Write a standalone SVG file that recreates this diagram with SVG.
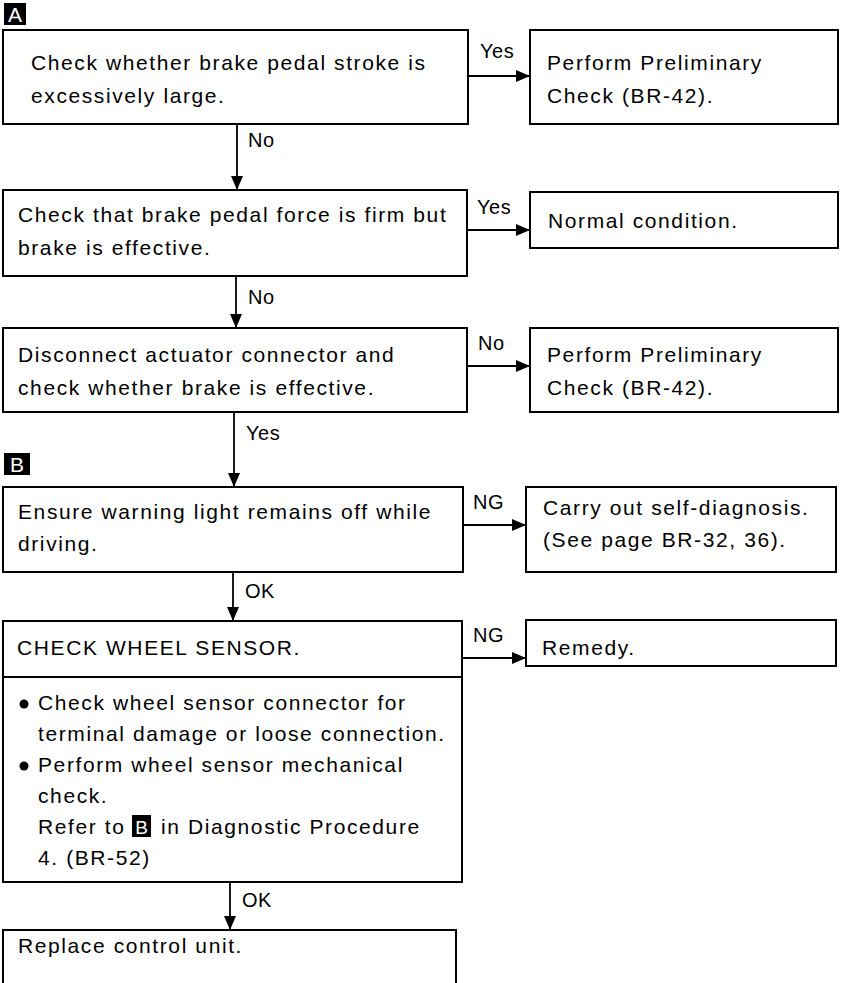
<svg xmlns="http://www.w3.org/2000/svg" width="847" height="983" viewBox="0 0 847 983">
<style>
.box{fill:#fff;stroke:#000;stroke-width:2}
.ln{fill:none;stroke:#000;stroke-width:1.8}
.t{font-family:"Liberation Sans",Arial,Helvetica,sans-serif;font-size:21px;letter-spacing:1.6px;fill:#000}
.lab{font-family:"Liberation Sans",Arial,Helvetica,sans-serif;font-size:20px;letter-spacing:0.5px;fill:#000}
.mk{fill:#000}
.mt{font-family:"Liberation Sans Narrow","Liberation Sans",Arial,sans-serif;font-size:21px;fill:#fff}
</style>
<defs>
<marker id="ah" viewBox="0 0 14 12" refX="14" refY="6" markerWidth="14" markerHeight="12" markerUnits="userSpaceOnUse" orient="auto">
<path d="M0,0 L14,6 L0,12 z" fill="#000"/>
</marker>
</defs>

<g id="markerA"><rect class="mk" x="4" y="3" width="22" height="22"/><text class="mt" x="15" y="22" text-anchor="middle">A</text></g>
<g id="markerB"><rect class="mk" x="4" y="453" width="26" height="22"/><text class="mt" x="17" y="472" text-anchor="middle">B</text></g>

<g id="connectors">
<line class="ln" x1="468" y1="76" x2="530" y2="76" marker-end="url(#ah)"/>
<text class="lab" x="480" y="58">Yes</text>
<line class="ln" x1="237" y1="124" x2="237" y2="190" marker-end="url(#ah)"/>
<text class="lab" x="248" y="147">No</text>
<line class="ln" x1="467" y1="230" x2="530" y2="230" marker-end="url(#ah)"/>
<text class="lab" x="477" y="214">Yes</text>
<line class="ln" x1="236" y1="276" x2="236" y2="328" marker-end="url(#ah)"/>
<text class="lab" x="248" y="304">No</text>
<line class="ln" x1="467" y1="366" x2="530" y2="366" marker-end="url(#ah)"/>
<text class="lab" x="478" y="350">No</text>
<line class="ln" x1="234" y1="412" x2="234" y2="487" marker-end="url(#ah)"/>
<text class="lab" x="246" y="440">Yes</text>
<line class="ln" x1="463" y1="525" x2="526" y2="525" marker-end="url(#ah)"/>
<text class="lab" x="473" y="509">NG</text>
<line class="ln" x1="233" y1="572" x2="233" y2="621" marker-end="url(#ah)"/>
<text class="lab" x="245" y="598">OK</text>
<line class="ln" x1="462" y1="658" x2="526" y2="658" marker-end="url(#ah)"/>
<text class="lab" x="473" y="642">NG</text>
<line class="ln" x1="230" y1="882" x2="230" y2="930" marker-end="url(#ah)"/>
<text class="lab" x="242" y="907">OK</text>
</g>

<g id="n1"><rect class="box" x="3" y="30" width="465" height="94"/>
<text class="t" x="31" y="70">Check whether brake pedal stroke is</text>
<text class="t" x="31" y="103">excessively large.</text></g>

<g id="n2"><rect class="box" x="530" y="30" width="308" height="94"/>
<text class="t" x="547" y="70">Perform Preliminary</text>
<text class="t" x="547" y="103">Check (BR-42).</text></g>

<g id="n3"><rect class="box" x="3" y="190" width="464" height="86"/>
<text class="t" x="18" y="222">Check that brake pedal force is firm but</text>
<text class="t" x="18" y="255">brake is effective.</text></g>

<g id="n4"><rect class="box" x="530" y="192" width="308" height="56"/>
<text class="t" x="548" y="228">Normal condition.</text></g>

<g id="n5"><rect class="box" x="3" y="328" width="464" height="84"/>
<text class="t" x="18" y="362">Disconnect actuator connector and</text>
<text class="t" x="18" y="395">check whether brake is effective.</text></g>

<g id="n6"><rect class="box" x="530" y="328" width="308" height="84"/>
<text class="t" x="547" y="362">Perform Preliminary</text>
<text class="t" x="547" y="395">Check (BR-42).</text></g>

<g id="n7"><rect class="box" x="3" y="487" width="460" height="85"/>
<text class="t" x="18" y="519">Ensure warning light remains off while</text>
<text class="t" x="18" y="551">driving.</text></g>

<g id="n8"><rect class="box" x="526" y="487" width="310" height="85"/>
<text class="t" x="543" y="515">Carry out self-diagnosis.</text>
<text class="t" x="543" y="547">(See page BR-32, 36).</text></g>

<g id="n9"><rect class="box" x="3" y="621" width="459" height="261"/>
<line class="ln" x1="3" y1="677" x2="462" y2="677"/>
<text class="t" x="17" y="655">CHECK WHEEL SENSOR.</text>
<circle cx="24" cy="704" r="4.5" fill="#000"/>
<text class="t" x="38" y="710">Check wheel sensor connector for</text>
<text class="t" x="38" y="741">terminal damage or loose connection.</text>
<circle cx="24" cy="766" r="4.5" fill="#000"/>
<text class="t" x="38" y="772">Perform wheel sensor mechanical</text>
<text class="t" x="38" y="803">check.</text>
<text class="t" x="38" y="834">Refer to</text>
<rect class="mk" x="132" y="815" width="19" height="22"/>
<text class="mt" x="141.5" y="834" text-anchor="middle" style="font-size:19px">B</text>
<text class="t" x="161" y="834">in Diagnostic Procedure</text>
<text class="t" x="38" y="865">4. (BR-52)</text></g>

<g id="n10"><rect class="box" x="526" y="620" width="310" height="46"/>
<text class="t" x="542" y="655">Remedy.</text></g>

<g id="n11"><path class="ln" style="stroke-width:2" d="M3,995 L3,930 L456,930 L456,995"/>
<text class="t" x="18" y="953">Replace control unit.</text></g>
</svg>
